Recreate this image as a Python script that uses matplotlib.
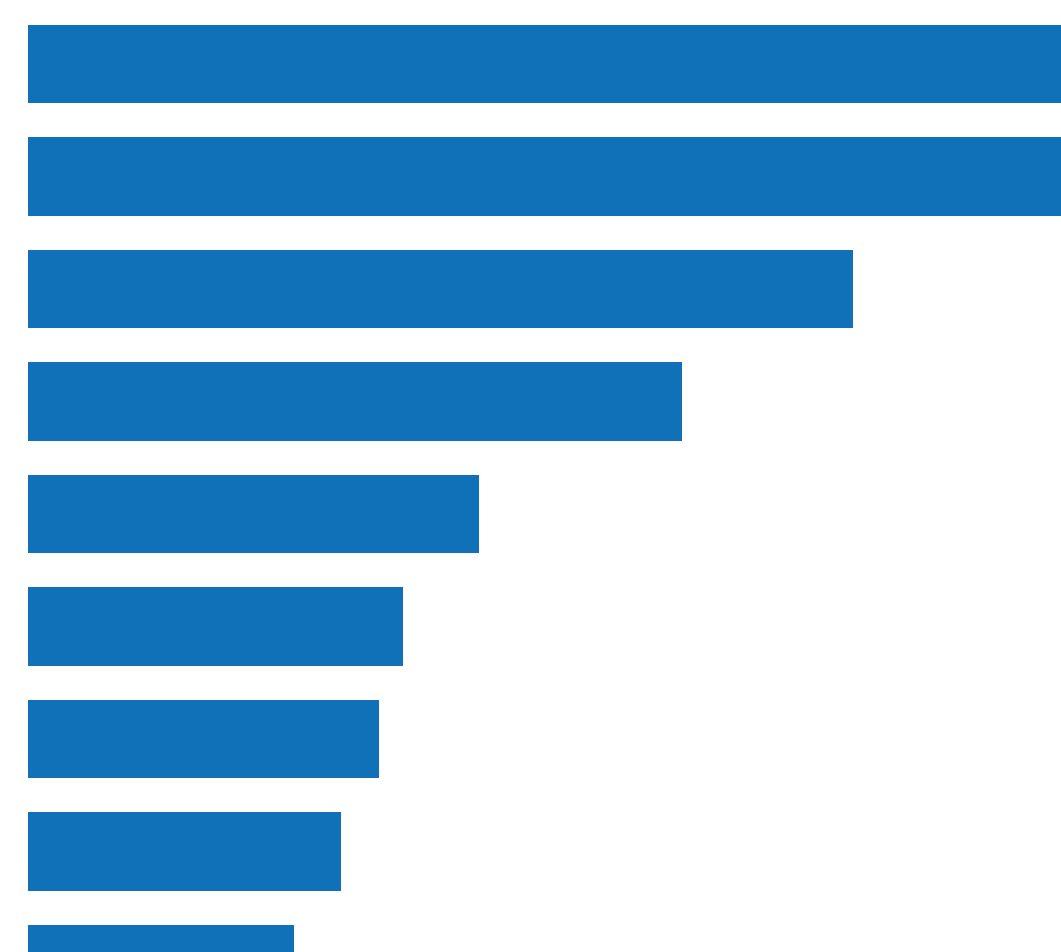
import matplotlib
matplotlib.use("Agg")
import matplotlib.pyplot as plt

# bar lengths (top two run past the right edge)
categories = ["A", "B", "C", "D", "E", "F", "G", "H", "I"]
values = [1250, 1150, 825, 654, 451, 375, 351, 313, 266]

BAR_COLOR = "#1070b8"


def main():
    fig = plt.figure(figsize=(10.61, 9.53), dpi=100)
    ax = fig.add_axes([28 / 1061, 0, 1 - 28 / 1061, 1])

    ypos = list(range(len(categories)))
    ax.barh(ypos, values, height=0.7, color=BAR_COLOR)

    ax.set_xlim(0, 1033)
    ax.set_ylim(888 / 112.5, -65 / 112.5)
    ax.axis("off")

    fig.savefig("out.png", dpi=100)
    plt.close(fig)


if __name__ == "__main__":
    main()
